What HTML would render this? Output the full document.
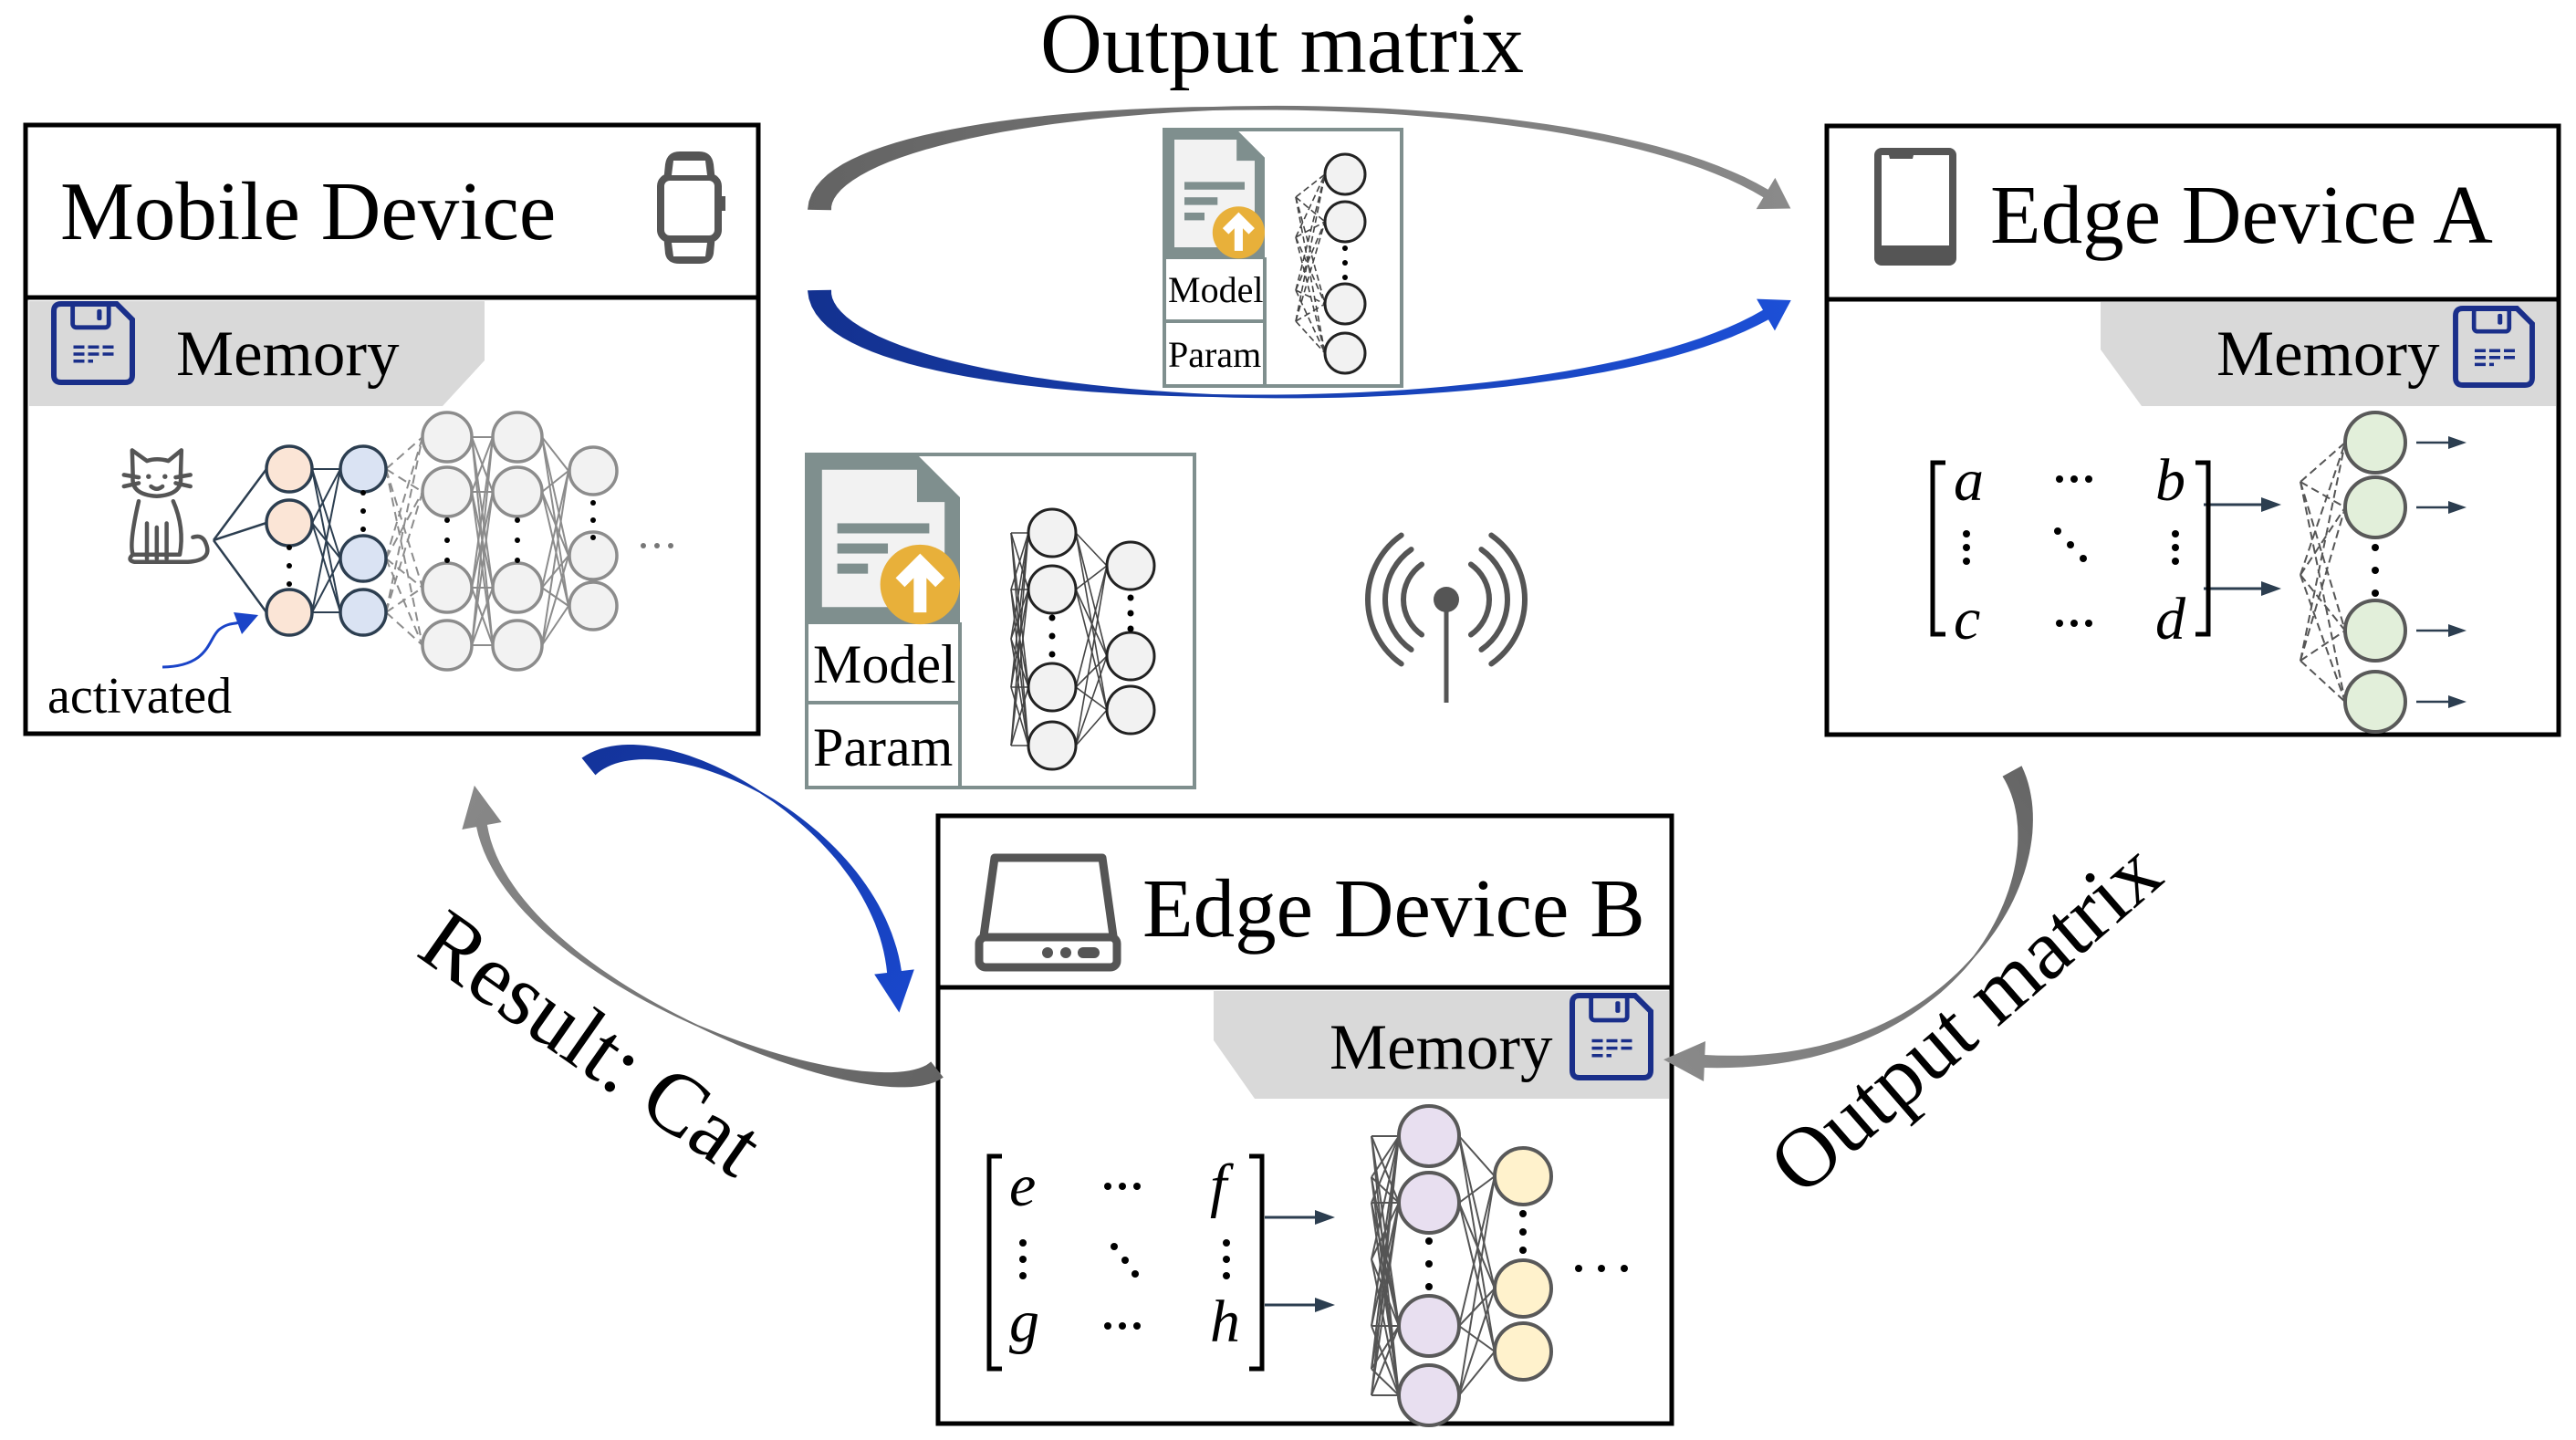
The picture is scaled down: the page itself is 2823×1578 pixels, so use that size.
<!DOCTYPE html>
<html><head><meta charset="utf-8">
<style>
html,body{margin:0;padding:0;background:#fff;}
svg{display:block;}
text{font-family:"Liberation Serif",serif;fill:#000;}
</style></head>
<body>
<svg id="s" width="2823" height="1578" viewBox="0 0 2823 1578" xmlns="http://www.w3.org/2000/svg">
<defs>
<linearGradient id="gTop" gradientUnits="userSpaceOnUse" x1="880" y1="0" x2="1960" y2="0"><stop offset="0" stop-color="#636363"/><stop offset="1" stop-color="#8a8a8a"/></linearGradient>
<linearGradient id="gBot" gradientUnits="userSpaceOnUse" x1="880" y1="0" x2="1960" y2="0"><stop offset="0" stop-color="#13318f"/><stop offset="1" stop-color="#1c4fd6"/></linearGradient>
<linearGradient id="gBlue2" gradientUnits="userSpaceOnUse" x1="640" y1="820" x2="990" y2="1110"><stop offset="0" stop-color="#13339a"/><stop offset="1" stop-color="#1947cc"/></linearGradient>
<linearGradient id="gRes" gradientUnits="userSpaceOnUse" x1="1030" y1="1180" x2="520" y2="860"><stop offset="0" stop-color="#636363"/><stop offset="1" stop-color="#888"/></linearGradient>
<linearGradient id="gOut" gradientUnits="userSpaceOnUse" x1="2210" y1="840" x2="1820" y2="1160"><stop offset="0" stop-color="#666"/><stop offset="1" stop-color="#8a8a8a"/></linearGradient>
</defs>

<rect x="28" y="137" width="803" height="667" fill="#fff" stroke="#000" stroke-width="5"/>
<line x1="28" y1="326" x2="831" y2="326" stroke="#000" stroke-width="5"/>
<polygon points="32,330 531,330 531,395 485,445 32,445" fill="#d9d9d9"/>

<rect x="2002" y="138" width="802" height="667" fill="#fff" stroke="#000" stroke-width="5"/>
<line x1="2002" y1="328" x2="2804" y2="328" stroke="#000" stroke-width="5"/>
<polygon points="2302,331 2801,331 2801,445 2347,445 2302,383" fill="#d9d9d9"/>

<rect x="1028" y="894" width="804" height="666" fill="#fff" stroke="#000" stroke-width="5"/>
<line x1="1028" y1="1082" x2="1832" y2="1082" stroke="#000" stroke-width="5"/>
<polygon points="1330,1086 1829,1086 1829,1204 1375,1204 1330,1140" fill="#d9d9d9"/>

<rect x="1276" y="142" width="260" height="281" fill="#fff" stroke="#7f8f8e" stroke-width="4"/>
<line x1="1386" y1="282" x2="1386" y2="423" stroke="#7f8f8e" stroke-width="4"/>
<line x1="1276" y1="282" x2="1386" y2="282" stroke="#7f8f8e" stroke-width="4"/>
<line x1="1276" y1="352" x2="1386" y2="352" stroke="#7f8f8e" stroke-width="4"/>
<rect x="884" y="498" width="425" height="365" fill="#fff" stroke="#7f8f8e" stroke-width="4"/>
<line x1="1052" y1="682" x2="1052" y2="863" stroke="#7f8f8e" stroke-width="4"/>
<line x1="884" y1="682" x2="1052" y2="682" stroke="#7f8f8e" stroke-width="4"/>
<line x1="884" y1="770" x2="1052" y2="770" stroke="#7f8f8e" stroke-width="4"/>

<g id="dyn"></g>
<g id="cat" transform="translate(17,20) scale(0.9) translate(0,-40)"></g>

<text x="1140" y="79" font-size="94">Output matrix</text>
<text x="66" y="262" font-size="91">Mobile Device</text>
<text x="193" y="411" font-size="71">Memory</text>
<text x="52" y="781" font-size="56">activated</text>
<text x="2181" y="266" font-size="91">Edge Device A</text>
<text x="2429" y="411" font-size="71">Memory</text>
<text x="1252" y="1026" font-size="91">Edge Device B</text>
<text x="1457" y="1171" font-size="71">Memory</text>
<text x="1280" y="331" font-size="40">Model</text>
<text x="1280" y="402" font-size="40">Param</text>
<text x="891" y="748" font-size="60">Model</text>
<text x="891" y="839" font-size="60">Param</text>
<text transform="translate(454,1046) rotate(35)" font-size="96">Result: Cat</text>
<text transform="translate(1974,1313) rotate(-41)" font-size="94">Output matrix</text>

<g font-style="italic" font-size="66">
<text x="2141" y="548">a</text><text x="2362" y="548">b</text>
<text x="2141" y="700">c</text><text x="2362" y="700">d</text>
<text x="1106" y="1321">e</text><text x="1326" y="1321">f</text>
<text x="1106" y="1470">g</text><text x="1326" y="1470">h</text>
</g>
</svg>
<script>
(function(){
var NS="http://www.w3.org/2000/svg",g=document.getElementById('dyn'),catg=document.getElementById('cat');
function el(t,a,p){var e=document.createElementNS(NS,t);for(var k in a)e.setAttribute(k,a[k]);(p||g).appendChild(e);return e;}
function ln(x1,y1,x2,y2,c,w,d){var a={x1:x1,y1:y1,x2:x2,y2:y2,stroke:c,'stroke-width':w};if(d)a['stroke-dasharray']=d;el('line',a);}
function ci(x,y,r,f,s,w){el('circle',{cx:x,cy:y,r:r,fill:f,stroke:s,'stroke-width':w});}
function dot(x,y,r){el('circle',{cx:x,cy:y,r:r||4,fill:'#000'});}
function full(A,B,c,w,d){A.forEach(function(a){B.forEach(function(b){ln(a[0],a[1],b[0],b[1],c,w,d);});});}
function pts(x,ys){return ys.map(function(y){return [x,y];});}
function tarrow(P,w0,wm,w1,fill,hl,hw){
 function B(t,i){var u=1-t;return u*u*u*P[0][i]+3*u*u*t*P[1][i]+3*u*t*t*P[2][i]+t*t*t*P[3][i];}
 function D(t,i){var u=1-t;return 3*u*u*(P[1][i]-P[0][i])+6*u*t*(P[2][i]-P[1][i])+3*t*t*(P[3][i]-P[2][i]);}
 var L=[],R=[],N=60;
 for(var k=0;k<=N;k++){var t=k/N,x=B(t,0),y=B(t,1),dx=D(t,0),dy=D(t,1),l=Math.hypot(dx,dy)||1,nx=-dy/l,ny=dx/l;
  var w=t<.5?w0+(wm-w0)*t/.5:wm+(w1-wm)*(t-.5)/.5;L.push([x+nx*w/2,y+ny*w/2]);R.push([x-nx*w/2,y-ny*w/2]);}
 var dx=D(1,0),dy=D(1,1),l=Math.hypot(dx,dy),ux=dx/l,uy=dy/l,nx=-uy,ny=ux,ex=P[3][0],ey=P[3][1];
 var s='M'+L.map(function(p){return p[0].toFixed(1)+','+p[1].toFixed(1);}).join(' L');
 s+=' L'+(ex+nx*hw)+','+(ey+ny*hw)+' L'+(ex+ux*hl)+','+(ey+uy*hl)+' L'+(ex-nx*hw)+','+(ey-ny*hw);
 s+=' L'+R.reverse().map(function(p){return p[0].toFixed(1)+','+p[1].toFixed(1);}).join(' L')+'Z';
 el('path',{d:s,fill:fill});
}
tarrow([[898,230],[900,100],[1700,70],[1935,212]],26,4,10,'url(#gTop)',32,20);
tarrow([[898,318],[900,455],[1700,480],[1935,345]],26,3,12,'url(#gBot)',32,20);
tarrow([[645,840],[720,780],[960,900],[980,1065]],24,2,16,'url(#gBlue2)',45,22);
tarrow([[1027,1172],[960,1225],[560,1080],[528,905]],22,2,12,'url(#gRes)',45,22);
tarrow([[2205,845],[2262,950],[2150,1175],[1868,1163]],24,2,14,'url(#gOut)',45,22);
el('path',{d:'M178,731 C230,730 228,700 240,690 C250,682 258,684 262,682',fill:'none',stroke:'#1a44c8','stroke-width':3});
el('polygon',{points:'283,674 256,671 265,695',fill:'#1a44c8'});

var inp=[234,592],O=pts(317,[514,573,671]),Bl=pts(398,[514,612,671]),G1=pts(490,[479,539,644,707]),G2=pts(567,[479,539,644,707]),G3=pts(650,[516,609,664]);
O.forEach(function(o){ln(inp[0],inp[1],o[0]-25,o[1],'#2c3e50',2.5);});
full(O.map(function(p){return[p[0]+25,p[1]]}),Bl.map(function(p){return[p[0]-25,p[1]]}),'#2c3e50',2);
full(Bl.map(function(p){return[p[0]+25,p[1]]}),G1.map(function(p){return[p[0]-27,p[1]]}),'#8c8c8c',2,'10,6');
full(G1.map(function(p){return[p[0]+27,p[1]]}),G2.map(function(p){return[p[0]-27,p[1]]}),'#8c8c8c',2);
full(G2.map(function(p){return[p[0]+27,p[1]]}),G3.map(function(p){return[p[0]-27,p[1]]}),'#8c8c8c',2);
O.forEach(function(p){ci(p[0],p[1],25,'#fbe5d6','#2c3e50',3.5);});
Bl.forEach(function(p){ci(p[0],p[1],25,'#dae3f3','#2c3e50',3.5);});
G1.concat(G2).forEach(function(p){ci(p[0],p[1],27,'#f2f2f2','#8c8c8c',3.5);});
G3.forEach(function(p){ci(p[0],p[1],26,'#f2f2f2','#8c8c8c',3.5);});
[600,620,640].forEach(function(y){dot(317,y,3);});
[540,560,580].forEach(function(y){dot(398,y,3);});
[570,592,614].forEach(function(y){dot(490,y,3);dot(567,y,3);});
[551,570,589].forEach(function(y){dot(650,y,3);});
[705,720,735].forEach(function(x){el('circle',{cx:x,cy:598,r:3,fill:'#777'});});

var GA=pts(2603,[485,556,691,769]);
[[2521,528],[2521,630],[2521,724]].forEach(function(f){GA.forEach(function(c){ln(f[0],f[1],c[0]-33,c[1],'#555',2,'9,5');});});
GA.forEach(function(p){ci(p[0],p[1],33,'#e2efda','#595959',4);});
[600,625,650].forEach(function(y){dot(2603,y,4);});
ln(2415,553,2480,553,'#2c3e50',3);el('polygon',{points:'2500,553 2478,545 2478,561',fill:'#2c3e50'});
ln(2415,645,2480,645,'#2c3e50',3);el('polygon',{points:'2500,645 2478,637 2478,653',fill:'#2c3e50'});
GA.forEach(function(p){ln(2648,p[1],2685,p[1],'#2c3e50',2.5);el('polygon',{points:(2703)+','+p[1]+' 2683,'+(p[1]-7)+' 2683,'+(p[1]+7),fill:'#2c3e50'});});

var PB=pts(1566,[1245,1318,1453,1529]),YB=pts(1669,[1289,1412,1481]);
var fanY=[1245,1290,1318,1380,1453,1500,1529];
fanY.forEach(function(y){PB.forEach(function(c){ln(1503,y,c[0]-33,c[1],'#555',2);});});
full(PB.map(function(p){return[p[0]+33,p[1]]}),YB.map(function(p){return[p[0]-31,p[1]]}),'#555',2);
PB.forEach(function(p){ci(p[0],p[1],33,'#e8dff0','#595959',4);});
YB.forEach(function(p){ci(p[0],p[1],31,'#fff2cc','#595959',4);});
[1360,1385,1410].forEach(function(y){dot(1566,y,4);});
[1330,1350,1370].forEach(function(y){dot(1669,y,4);});
[1730,1755,1780].forEach(function(x){dot(x,1390,4);});
ln(1386,1334,1445,1334,'#2c3e50',3);el('polygon',{points:'1463,1334 1441,1326 1441,1342',fill:'#2c3e50'});
ln(1386,1430,1445,1430,'#2c3e50',3);el('polygon',{points:'1463,1430 1441,1422 1441,1438',fill:'#2c3e50'});

function bracket(x,y1,y2,dir){el('path',{d:'M'+(x+dir*14)+','+y1+' L'+x+','+y1+' L'+x+','+y2+' L'+(x+dir*14)+','+y2,fill:'none',stroke:'#000','stroke-width':5});}
bracket(2118,507,695,1);bracket(2420,507,695,-1);
bracket(1084,1267,1500,1);bracket(1383,1267,1500,-1);
[2257,2273,2289].forEach(function(x){dot(x,525,4);dot(x,683,4);});
[585,600,615].forEach(function(y){dot(2155,y,4);dot(2384,y,4);});
dot(2255,582,4);dot(2269,597,4);dot(2283,612,4);
[1214,1230,1246].forEach(function(x){dot(x,1300,4);dot(x,1453,4);});
[1362,1380,1398].forEach(function(y){dot(1121,y,4);dot(1344,y,4);});
dot(1221,1366,4);dot(1233,1381,4);dot(1244,1396,4);

var SM=pts(1474,[191,243,333,387]);
[[1420,216],[1420,260],[1420,318],[1420,352]].forEach(function(f){SM.forEach(function(c){ln(f[0],f[1],c[0]-22,c[1],'#444',1.6,'7,4');});});
SM.forEach(function(p){ci(p[0],p[1],22,'#f2f2f2','#222',3);});
[272,288,304].forEach(function(y){dot(1474,y,3);});
var C1=pts(1153,[584,646,753,817]),C2=pts(1239,[620,719,778]);
[584,646,700,753,817].forEach(function(y){C1.forEach(function(c){ln(1108,y,c[0]-26,c[1],'#444',1.6);});});
full(C1.map(function(p){return[p[0]+26,p[1]]}),C2.map(function(p){return[p[0]-26,p[1]]}),'#444',1.6);
C1.forEach(function(p){ci(p[0],p[1],26,'#f2f2f2','#222',3);});
C2.forEach(function(p){ci(p[0],p[1],26,'#f2f2f2','#222',3);});
[677,697,717].forEach(function(y){dot(1153,y,3.5);});
[655,672,689].forEach(function(y){dot(1239,y,3.5);});

function doc(x,y,w,h){
 var c=w*0.28;
 el('polygon',{points:x+','+y+' '+(x+w-c)+','+y+' '+(x+w)+','+(y+c)+' '+(x+w)+','+(y+h)+' '+x+','+(y+h),fill:'#7f8f8e'});
 var m=w*0.1;
 el('polygon',{points:(x+m)+','+(y+m)+' '+(x+w-c)+','+(y+m)+' '+(x+w-c)+','+(y+c+m*0.3)+' '+(x+w-m)+','+(y+c+m*0.3)+' '+(x+w-m)+','+(y+h-m)+' '+(x+m)+','+(y+h-m),fill:'#f2f2f2'});
 el('rect',{x:x+w*0.2,y:y+h*0.41,width:w*0.6,height:h*0.06,fill:'#7f8f8e'});
 el('rect',{x:x+w*0.2,y:y+h*0.53,width:w*0.33,height:h*0.06,fill:'#7f8f8e'});
 el('rect',{x:x+w*0.2,y:y+h*0.65,width:w*0.2,height:h*0.06,fill:'#7f8f8e'});
 var r=w*0.26,cx=x+w-r,cy=y+h-r*0.95;
 el('circle',{cx:cx,cy:cy,r:r,fill:'#e8b03a'});
 el('path',{d:'M'+cx+','+(cy+r*0.7)+' L'+cx+','+(cy-r*0.45)+' M'+(cx-r*0.5)+','+(cy-r*0.05)+' L'+cx+','+(cy-r*0.55)+' L'+(cx+r*0.5)+','+(cy-r*0.05),stroke:'#fff','stroke-width':r*0.32,fill:'none'});
}
doc(1276,142,110,140);doc(884,498,168,184);

function floppy(x,y,w,h){
 var c=w*0.2,s=w*0.07;
 el('path',{d:'M'+(x+8)+','+y+' L'+(x+w-c)+','+y+' L'+(x+w)+','+(y+c)+' L'+(x+w)+','+(y+h-8)+' Q'+(x+w)+','+(y+h)+' '+(x+w-8)+','+(y+h)+' L'+(x+8)+','+(y+h)+' Q'+x+','+(y+h)+' '+x+','+(y+h-8)+' L'+x+','+(y+8)+' Q'+x+','+y+' '+(x+8)+','+y+'Z',fill:'none',stroke:'#1a2f8a','stroke-width':s});
 el('rect',{x:x+w*0.24,y:y,width:w*0.46,height:h*0.3,rx:4,fill:'none',stroke:'#1a2f8a','stroke-width':s*0.8});
 el('rect',{x:x+w*0.55,y:y+h*0.07,width:w*0.06,height:h*0.14,rx:2,fill:'#1a2f8a'});
 [[0.25,0.55,0.8],[0.25,0.64,0.8],[0.25,0.73,0.5]].forEach(function(r){el('line',{x1:x+w*r[0],y1:y+h*r[1],x2:x+w*r[2],y2:y+h*r[1],stroke:'#1a2f8a','stroke-width':3.5,'stroke-dasharray':'12,4'});});
}
floppy(59,333,86,86);floppy(2691,338,84,84);floppy(1723,1091,86,90);

el('path',{d:'M729,180 Q731,166 745,166 L766,166 Q780,166 782,180 L784,200 L727,200Z',fill:'#555'});
el('path',{d:'M727,256 L784,256 L782,278 Q780,289 766,289 L745,289 Q731,289 729,278Z',fill:'#555'});
el('rect',{x:724,y:194,width:63,height:68,rx:10,fill:'#fff',stroke:'#555','stroke-width':8});
el('rect',{x:789,y:215,width:6,height:16,fill:'#555'});
el('path',{d:'M738,176 L773,176 L775,192 L736,192Z',fill:'#fff'});
el('path',{d:'M736,266 L775,266 L773,281 L738,281Z',fill:'#fff'});
el('rect',{x:2054,y:162,width:90,height:129,rx:8,fill:'#555'});
el('path',{d:'M2062,170 L2070,170 L2071,174 L2096,174 L2097,170 L2136,170 L2136,269 L2062,269Z',fill:'#fff'});
el('path',{d:'M1090,940 L1208,940 L1222,1040 L1076,1040Z',fill:'none',stroke:'#555','stroke-width':9,'stroke-linejoin':'round'});
el('rect',{x:1073,y:1027,width:151,height:33,rx:7,fill:'#fff',stroke:'#555','stroke-width':9});
el('circle',{cx:1148,cy:1044,r:6,fill:'#555'});el('circle',{cx:1168,cy:1044,r:6,fill:'#555'});
el('rect',{x:1181,y:1038,width:24,height:12,rx:6,fill:'#555'});
var cs={fill:'none',stroke:'#555','stroke-width':5,'stroke-linecap':'round','stroke-linejoin':'round'};
function cp(d){var a={d:d};for(var k in cs)a[k]=cs[k];el('path',a,catg);}
cp('M143,598 L142,566 L160,579 Q172,575 186,579 L202,566 L201,598 Q204,620 172,622 Q140,620 143,598Z');
cp('M150,628 Q138,680 143,693 L200,693 Q206,660 192,628');
cp('M143,693 Q135,700 145,702 L210,702 Q240,700 232,680 Q228,668 216,672');
cp('M160,655 L160,698 M172,660 L172,698 M184,655 L184,698');
cp('M132,596 L150,599 M132,610 L150,606 M195,599 L213,596 M195,606 L213,610');
cp('M165,610 Q172,616 179,610');
el('circle',{cx:162,cy:598,r:3,fill:'#555'},catg);el('circle',{cx:182,cy:598,r:3,fill:'#555'},catg);
el('circle',{cx:1585,cy:657,r:14,fill:'#555'});
ln(1585,665,1585,770,'#555',5);
[47,67,86].forEach(function(r){
 var a=55*Math.PI/180;
 el('path',{d:'M'+(1585-r*Math.cos(a))+','+(657-r*Math.sin(a))+' A'+r+','+r+' 0 0 0 '+(1585-r*Math.cos(a))+','+(657+r*Math.sin(a)),fill:'none',stroke:'#555','stroke-width':6,'stroke-linecap':'round'});
 el('path',{d:'M'+(1585+r*Math.cos(a))+','+(657-r*Math.sin(a))+' A'+r+','+r+' 0 0 1 '+(1585+r*Math.cos(a))+','+(657+r*Math.sin(a)),fill:'none',stroke:'#555','stroke-width':6,'stroke-linecap':'round'});
});
})();
</script>
</body></html>
